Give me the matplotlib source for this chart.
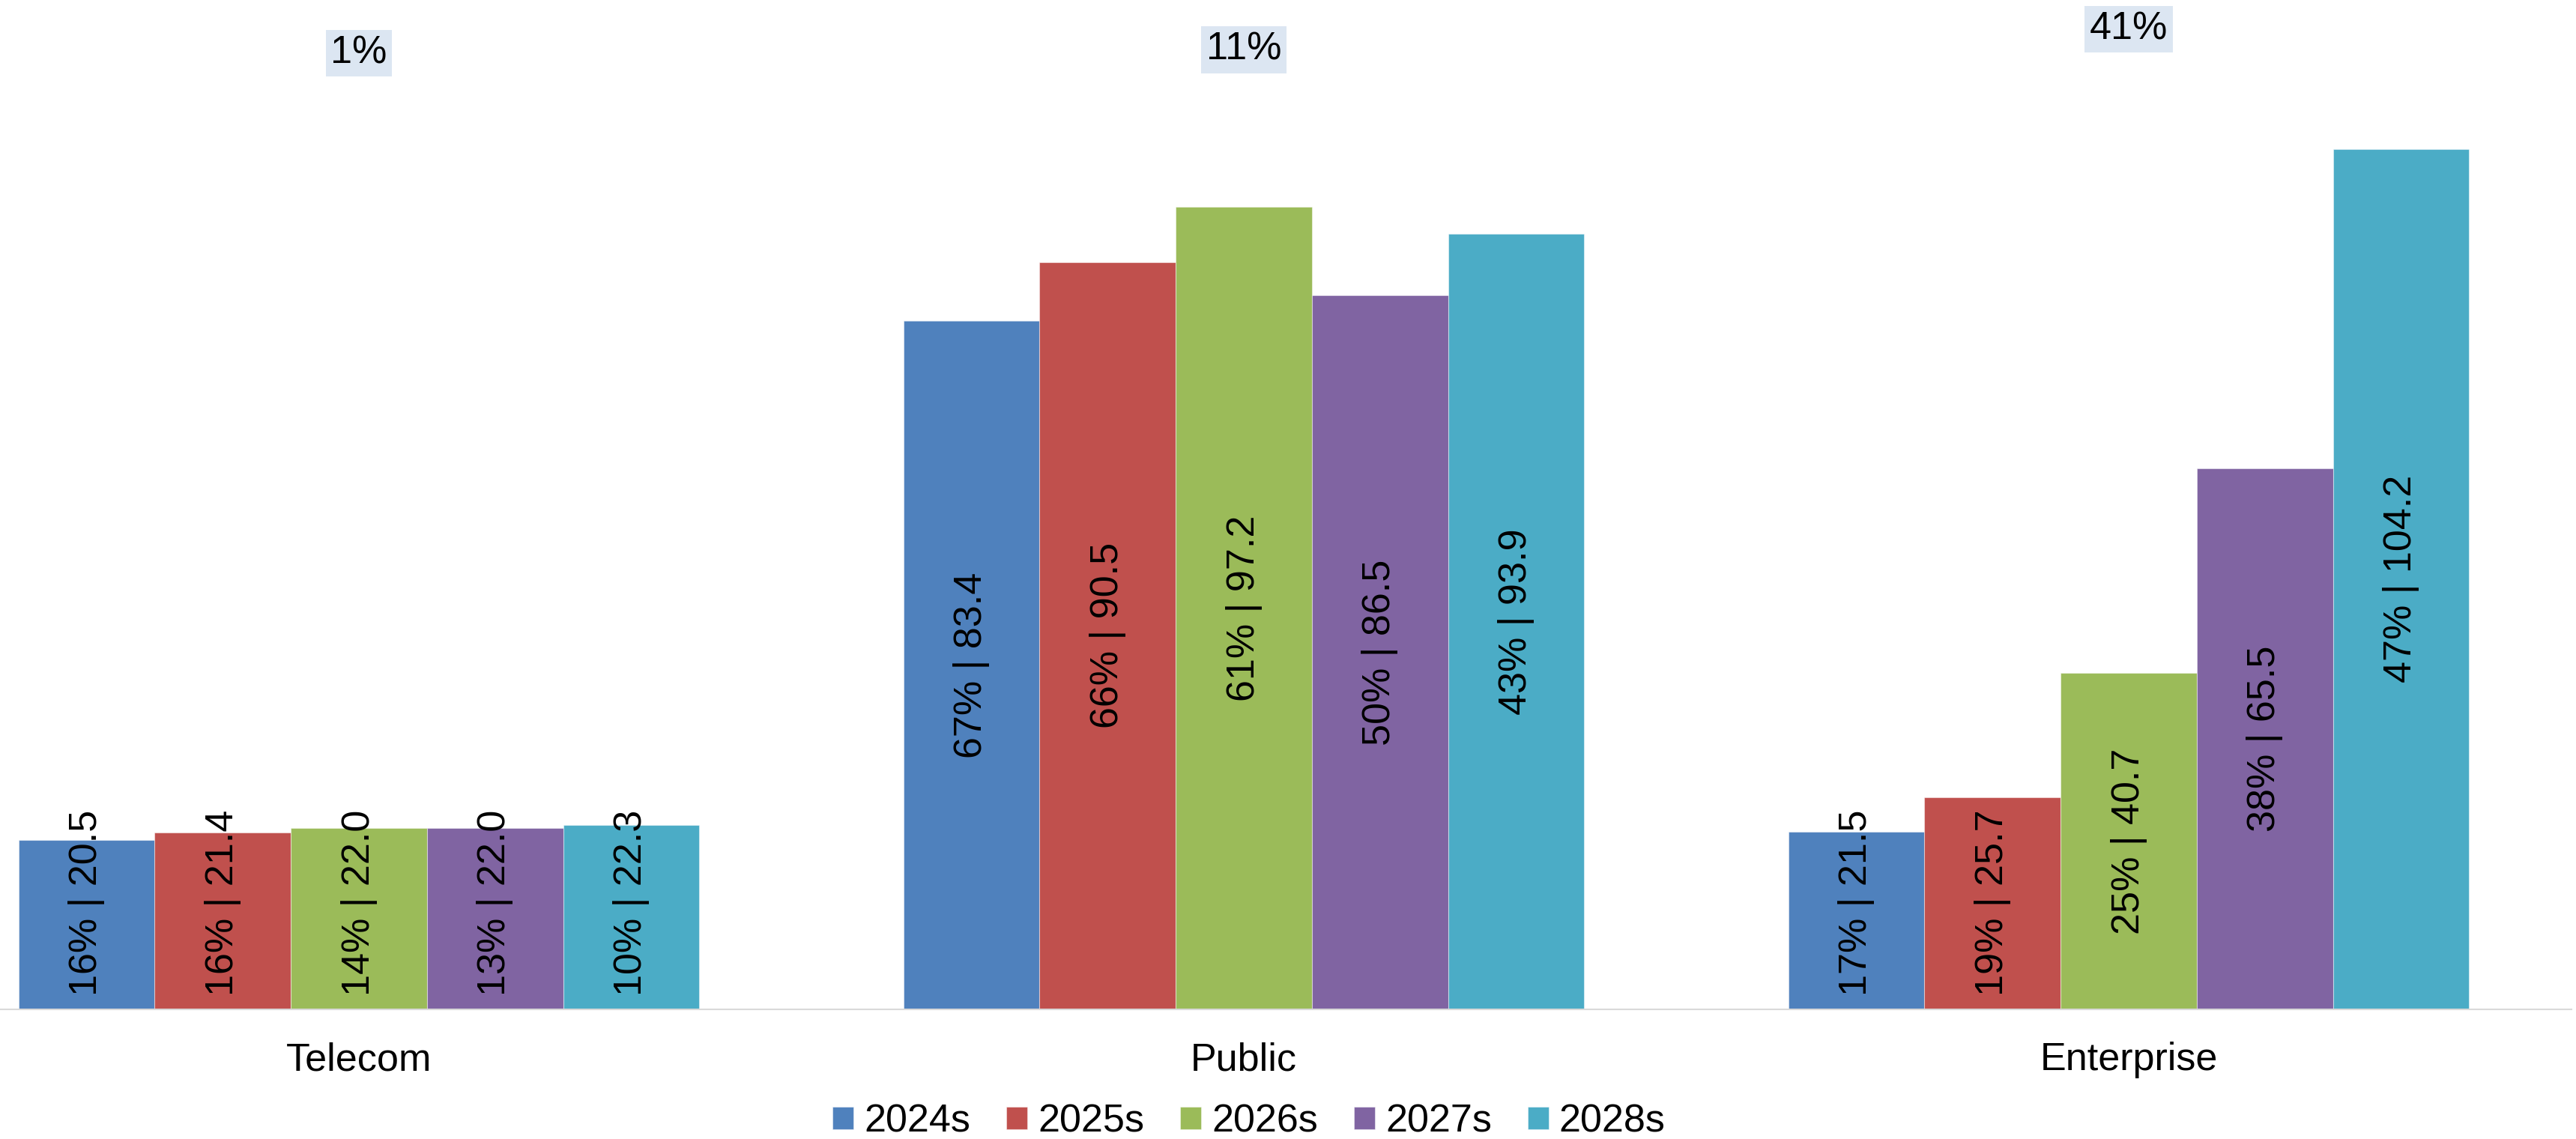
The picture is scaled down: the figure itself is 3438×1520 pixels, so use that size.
import matplotlib
matplotlib.use("Agg")
import matplotlib.pyplot as plt
import numpy as np

# Segments and periods
categories = ["Telecom", "Public", "Enterprise"]
periods = ["2024s", "2025s", "2026s", "2027s", "2028s"]

# Market size per period, one value per segment
values_2024 = [20.5, 83.4, 21.5]
values_2025 = [21.4, 90.5, 25.7]
values_2026 = [22.0, 97.2, 40.7]
values_2027 = [22.0, 86.5, 65.5]
values_2028 = [22.3, 93.9, 104.2]

# Segment share of each period's total (%)
share_2024 = [16, 67, 17]
share_2025 = [16, 66, 19]
share_2026 = [14, 61, 25]
share_2027 = [13, 50, 38]
share_2028 = [10, 43, 47]

# Growth call-out per segment
growth_labels = ["1%", "11%", "41%"]

values = [values_2024, values_2025, values_2026, values_2027, values_2028]
shares = [share_2024, share_2025, share_2026, share_2027, share_2028]
colors = ["#4F81BD", "#C0504D", "#9BBB59", "#8064A2", "#4BACC6"]

plt.rcParams["font.family"] = ["Liberation Sans", "DejaVu Sans"]
FS = 37.5

W, H = 3438, 1520
fig = plt.figure(figsize=(W / 100, H / 100), dpi=100)
# plot area: left part runs past the figure edge
ax = fig.add_axes([-111.5 / W, 173 / H, 3543 / W, 1322.4 / H])

x = np.arange(len(categories))
n = len(periods)
bw = 1 / (n + 1.5)

for i, (period, vals, shr, col) in enumerate(zip(periods, values, shares, colors)):
    pos = x + (i - (n - 1) / 2) * bw
    ax.bar(pos, vals, width=bw, color=col, label=period,
           edgecolor=(1, 1, 1, 0.45), linewidth=0.8)
    for px, v, s in zip(pos, vals, shr):
        # keep short-bar labels clear of the category axis
        yc = max(v / 2, 12.9)
        ax.text(px, yc, f"{s}% | {v:.1f}", rotation=90, ha="center",
                va="center", fontsize=FS, color="black")

growth_y = [115.8, 116.2, 118.7]
for xc, lab, gy in zip(x, growth_labels, growth_y):
    ax.text(xc, gy, lab, ha="center", va="center", fontsize=FS,
            bbox=dict(boxstyle="square,pad=0.13", facecolor="#DCE6F2",
                      edgecolor="none"))

ax.set_xlim(-0.5, 2.5)
ax.set_ylim(0, 120)
ax.set_xticks(x)
ax.set_xticklabels(categories, fontsize=FS)
ax.tick_params(axis="x", length=0, pad=31)
ax.set_yticks([])
for side in ["left", "right", "top"]:
    ax.spines[side].set_visible(False)
ax.spines["bottom"].set_color("#D9D9D9")
ax.spines["bottom"].set_linewidth(1.5)
ax.set_facecolor("none")

leg = fig.legend(loc="center", bbox_to_anchor=(1667 / W, 23 / H), ncol=5,
                 frameon=False, fontsize=FS, handlelength=0.53,
                 handleheight=0.51, handletextpad=0.27, columnspacing=0.93,
                 borderpad=0, borderaxespad=0)

fig.savefig("out.png", dpi=100, facecolor="white")
